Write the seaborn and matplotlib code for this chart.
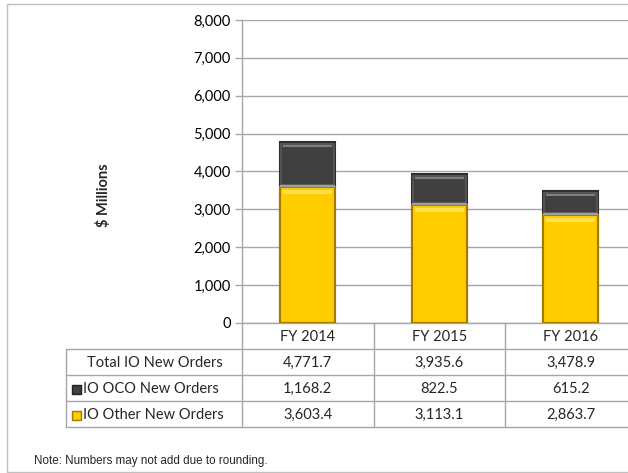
import matplotlib
matplotlib.use("Agg")
import matplotlib.pyplot as plt
from matplotlib.patches import Rectangle
import seaborn as sns
import pandas as pd

# Data ($ millions)
years = ["FY 2014", "FY 2015", "FY 2016"]
total_orders = [4771.7, 3935.6, 3478.9]
oco_orders = [1168.2, 822.5, 615.2]
other_orders = [3603.4, 3113.1, 2863.7]
row_labels = ["Total IO New Orders", "IO OCO New Orders", "IO Other New Orders"]
y_ticks = [0, 1000, 2000, 3000, 4000, 5000, 6000, 7000, 8000]

YELLOW = "#FFCC00"
YELLOW_EDGE = "#A27A00"
DARK = "#404040"
DARK_EDGE = "#2E2E2E"
GRID = "#A6A6A6"
BAR_W = 0.42

sns.set_theme(style="white")
plt.rcParams["font.family"] = ["Lato", "DejaVu Sans"]

W, H = 628, 473
fig = plt.figure(figsize=(W / 100, H / 100), dpi=100)


def fx(px):
    return px / W


def fy(py):
    return 1 - py / H


# plot area (in pixels): x 242..636.5, y 20..323
ax_l, ax_r, ax_t, ax_b = 242, 636.5, 20, 323
ax = fig.add_axes([fx(ax_l), fy(ax_b), fx(ax_r - ax_l), (ax_b - ax_t) / H])

df = pd.DataFrame({"year": years, "total": total_orders, "other": other_orders, "oco": oco_orders})

# stacked bars: full total in dark, the "other" part drawn over it in yellow
sns.barplot(data=df, x="year", y="total", color=DARK, saturation=1, width=BAR_W,
            edgecolor=DARK_EDGE, linewidth=1.5, ax=ax, zorder=3)
sns.barplot(data=df, x="year", y="other", color=YELLOW, saturation=1, width=BAR_W,
            edgecolor=YELLOW_EDGE, linewidth=1.5, ax=ax, zorder=4)

ppu = (ax_b - ax_t) / 8000.0  # pixels per data unit (vertical)
dy = 1 / ppu  # one pixel in data units

# bevel highlights
for i, (tot, oth) in enumerate(zip(total_orders, other_orders)):
    dark_p = ax.patches[i]
    x0, w = dark_p.get_x(), dark_p.get_width()
    inset = 0.025
    # dark segment: soft lighter rim and a light line near its top
    ax.add_patch(Rectangle((x0 + 0.008, oth + 2 * dy), w - 0.016, tot - oth - 4 * dy,
                           facecolor="none", edgecolor="#5A5A5A", lw=1.2, zorder=5))
    ax.plot([x0 + inset, x0 + w - inset], [tot - 4 * dy, tot - 4 * dy], color="#8C8C8C",
            lw=1.2, zorder=6, solid_capstyle="butt")
    # yellow segment: bright band along its top
    ax.add_patch(Rectangle((x0 + inset, oth - 7 * dy), w - 2 * inset, 4 * dy,
                           facecolor="#FFE14D", edgecolor="none", zorder=5))
    # light separator between the two segments
    ax.plot([x0, x0 + w], [oth + 1 * dy, oth + 1 * dy], color="#A0A0A0", lw=1.6, zorder=6,
            solid_capstyle="butt")

ax.set_xlim(-0.5, 2.5)
ax.set_ylim(0, 8000)
ax.set_yticks(y_ticks)
ax.set_yticklabels([f"{t:,}" for t in y_ticks], fontsize=10.5, color="#000000")
ax.set_xticks([])
ax.set_xlabel("")
ax.set_ylabel("")
ax.yaxis.grid(True, color=GRID, lw=1)
ax.set_axisbelow(True)
ax.tick_params(axis="y", which="both", left=True, length=5, width=1, color=GRID, pad=3)
for side in ["top", "right"]:
    ax.spines[side].set_visible(False)
ax.spines["left"].set_color(GRID)
ax.spines["bottom"].set_color(GRID)
ax.spines["left"].set_linewidth(1)
ax.spines["bottom"].set_linewidth(1)

fig.text(fx(103), fy(195), "$ Millions", rotation=90, ha="center", va="center",
         fontsize=10.5, fontweight="bold")

# data table beneath the bars
tab = fig.add_axes([0, 0, 1, 1], facecolor="none")
tab.set_xlim(0, W)
tab.set_ylim(H, 0)
tab.axis("off")

col_edges = [242, 373.5, 505, 636.5]
row_edges = [323, 349, 375, 401, 427]
label_left = 66
LINE = "#A6A6A6"

for yv in row_edges[1:]:
    tab.plot([label_left, col_edges[-1]], [yv, yv], color=LINE, lw=1)
for xv in col_edges[:-1]:
    tab.plot([xv, xv], [row_edges[0], row_edges[-1]], color=LINE, lw=1)
tab.plot([label_left, label_left], [row_edges[1], row_edges[-1]], color=LINE, lw=1)

centers = [(col_edges[i] + col_edges[i + 1]) / 2 for i in range(3)]
for c, yr in zip(centers, years):
    tab.text(c, (row_edges[0] + row_edges[1]) / 2 + 1, yr, ha="center", va="center", fontsize=10.5)

rows = [total_orders, oco_orders, other_orders]
for r, (lab, vals) in enumerate(zip(row_labels, rows)):
    yc = (row_edges[r + 1] + row_edges[r + 2]) / 2 + 1
    for c, v in zip(centers, vals):
        tab.text(c, yc, f"{v:,.1f}", ha="center", va="center", fontsize=10.5)
    if r == 0:
        tab.text(155, yc, lab, ha="center", va="center", fontsize=10.5)
    else:
        sw_face, sw_edge = (DARK, "#222222") if r == 1 else (YELLOW, YELLOW_EDGE)
        tab.add_patch(Rectangle((72, yc - 4.5), 9, 9, facecolor=sw_face, edgecolor=sw_edge, lw=1))
        tab.text(83, yc, lab, ha="left", va="center", fontsize=10.5)

# note and outer frame
tab.text(34, 461, "Note: Numbers may not add due to rounding.", ha="left", va="center",
         fontsize=8.4, family=["Liberation Sans", "DejaVu Sans"])
tab.add_patch(Rectangle((7, 4.5), 640, 467, facecolor="none", edgecolor="#BFBFBF", lw=1))

fig.savefig("out.png", dpi=100)
